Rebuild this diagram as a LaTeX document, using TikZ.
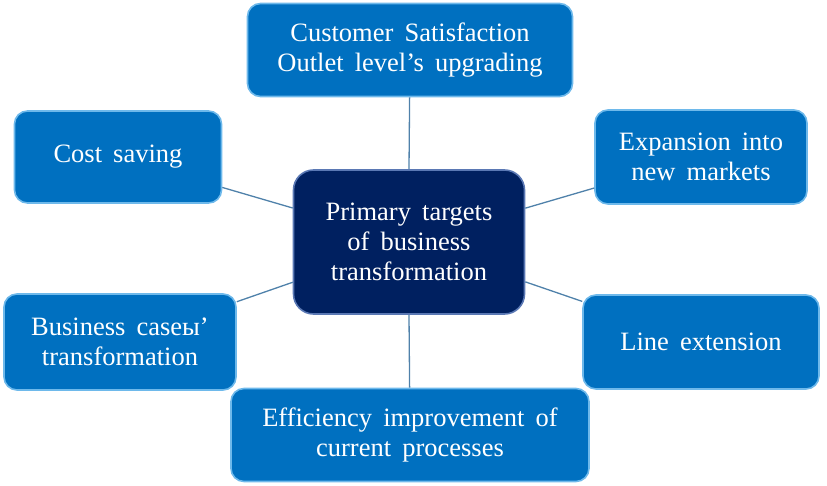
\documentclass[tikz,border=0pt]{standalone}
\usepackage{fontspec}
\setmainfont{Liberation Serif}
\usetikzlibrary{positioning}
\definecolor{boxblue}{RGB}{0,112,192}
\definecolor{rimblue}{RGB}{110,185,235}
\definecolor{navy}{RGB}{0,32,96}
\definecolor{navyrim}{RGB}{90,120,180}
\definecolor{linkblue}{RGB}{79,129,170}
\newcommand\boxfont{\fontsize{26.5}{30}\selectfont\spaceskip=0.42em\relax}
\tikzset{target/.style={draw=rimblue,line width=1.6pt,fill=boxblue,rounded corners=13pt,text=white,align=center,inner sep=0pt,font=\boxfont},
  hub/.style={target,draw=navyrim,fill=navy,rounded corners=20pt},
  link/.style={draw=linkblue,line width=1.3pt}}

\begin{document}
\begin{tikzpicture}[x=1pt,y=-1pt]
\useasboundingbox (0,0) rectangle (827,486);
% --- centre and the six targets round it
\node[hub,minimum width=231pt,minimum height=144pt] (goal) at (409,242) {Primary targets\\of business\\transformation};
\node[target,minimum width=325pt,minimum height=93pt] (cust) at (410,50) {Customer Satisfaction\\Outlet level’s upgrading};
\node[target,minimum width=207pt,minimum height=92pt] (cost) at (118,157) {Cost saving};
\node[target,minimum width=212pt,minimum height=94pt] (expand) at (701,157) {Expansion into\\new markets};
\node[target,minimum width=232pt,minimum height=96pt] (cases) at (120,342) {Business caseы’\\transformation};
\node[target,minimum width=236pt,minimum height=94pt] (line) at (701,342) {Line extension};
\node[target,minimum width=358pt,minimum height=93pt] (effic) at (410,435) {Efficiency improvement of\\current processes};
% --- spokes
\draw[link] (goal.north) -- (cust);
\draw[link] (goal) -- (cost);
\draw[link] (goal) -- (expand);
\draw[link] (goal) -- (cases);
\draw[link] (goal) -- (line);
\draw[link] (goal.south) -- (effic);
\end{tikzpicture}
\end{document}
